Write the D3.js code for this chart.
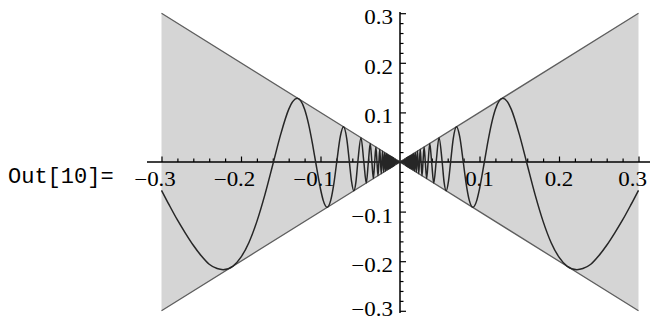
<!DOCTYPE html>
<html>
<head>
<meta charset="utf-8">
<script src="https://cdn.jsdelivr.net/npm/d3@7/dist/d3.min.js"></script>
<style>
  html, body { margin: 0; padding: 0; background: #fff; }
  svg { display: block; }
  .lbl { font-family: "Liberation Serif", Tinos, "Times New Roman", Times, "DejaVu Serif", serif; font-size: 20px; fill: #000; }
  .tag { font-family: "Liberation Mono", Cousine, "Courier New", Courier, "DejaVu Sans Mono", monospace; font-size: 22px; fill: #000; }
</style>
</head>
<body>
<svg id="chart" width="650" height="322"></svg>
<script>
// x Sin[1/x] between the envelope lines y = x and y = -x on [-0.3, 0.3]
const xDomain = [-0.3, 0.3];
const yDomain = [-0.3, 0.3];
const envelopeX = [-0.3, 0, 0.3];

const xMajor = [-0.3, -0.2, -0.1, 0.1, 0.2, 0.3];
const xLabels = ["0.3", "0.2", "0.1", "0.1", "0.2", "0.3"];
const xNegative = [true, true, true, false, false, false];
const yMajor = [0.3, 0.2, 0.1, -0.1, -0.2, -0.3];
const yLabels = ["0.3", "0.2", "0.1", "\u22120.1", "\u22120.2", "\u22120.3"];
const minorStep = 0.02;

// right half of the oscillating curve, [x, y]; the curve is even so the left half mirrors it
const curveRight = [
  [0.0010, -0.0010], [0.0020, 0.0020], [0.0030, -0.0030], [0.0040, 0.0040],
  [0.0050, -0.0050], [0.0060, 0.0060], [0.0070, -0.0070],
  [0.007860, 0.007860], [0.008058, -0.008058], [0.008268, 0.008268], [0.008488, -0.008488],
  [0.008721, 0.008721], [0.008966, -0.008966], [0.009226, 0.009226], [0.009502, -0.009502],
  [0.009794, 0.009794], [0.010105, -0.010105], [0.010436, 0.010436], [0.010790, -0.010790],
  [0.011169, 0.011169], [0.011575, -0.011575], [0.012012, 0.012012], [0.012483, -0.012483],
  [0.012992, 0.012992], [0.013545, -0.013545], [0.014147, 0.014147], [0.014805, -0.014805],
  [0.015527, 0.015527], [0.015915, 0], [0.016324, -0.016324], [0.016753, 0],
  [0.017206, 0.017206], [0.017684, 0], [0.018189, -0.018189], [0.018724, 0],
  [0.019292, 0.019292], [0.019894, 0], [0.020536, -0.020536], [0.021221, 0],
  [0.021952, 0.021952], [0.022736, 0], [0.023579, -0.023579], [0.024485, 0],
  [0.025465, 0.025465], [0.026526, 0], [0.027679, -0.027679], [0.028937, 0],
  [0.030315, 0.030315], [0.031831, 0], [0.033506, -0.033506], [0.035368, 0],
  [0.037448, 0.037448], [0.039789, 0], [0.042441, -0.042441], [0.045473, 0],
  [0.04909, 0.0490], [0.053052, 0], [0.0555, -0.04101], [0.05807, -0.0580],
  [0.061, -0.03857], [0.063662, 0], [0.067, 0.04724], [0.07109, 0.0709],
  [0.075, 0.05204], [0.079577, 0], [0.083, -0.04169], [0.087, -0.07641],
  [0.0917, -0.0913], [0.0965, -0.07789], [0.100, -0.05440], [0.106103, 0],
  [0.110, 0.03605], [0.115, 0.07652], [0.120, 0.10642], [0.125, 0.12367],
  [0.1294, 0.1284], [0.135, 0.12177], [0.140, 0.10609], [0.150, 0.05612],
  [0.159155, 0], [0.170, -0.06632], [0.180, -0.11972], [0.190, -0.16219],
  [0.200, -0.19178], [0.210, -0.20973], [0.2225, -0.2171], [0.230, -0.21487],
  [0.240, -0.20614], [0.250, -0.18920], [0.260, -0.16793], [0.270, -0.14327],
  [0.280, -0.11685], [0.290, -0.08762], [0.300, -0.05703]
];

const curve = curveRight.slice().reverse().map(([px, py]) => [-px, py])
  .concat([[0, 0]], curveRight);

const W = 650;
const svg = d3.select("#chart");
const x = d3.scaleLinear().domain(xDomain).range([161.5, 638.5]);
const y = d3.scaleLinear().domain(yDomain).range([310.8, 13.2]);

// shaded wedge between the two envelope lines
svg.append("path")
  .datum(envelopeX)
  .attr("d", d3.area().x(d => x(d)).y0(d => y(d)).y1(d => y(-d)))
  .attr("fill", "#d5d5d5");

// axes
const minorTicks = d3.range(-15, 16).filter(i => i % 5 !== 0).map(i => i * minorStep);

const gx = svg.append("g").attr("transform", `translate(0,${y(0)})`);
gx.call(d3.axisTop(x).tickValues(minorTicks).tickSize(3.5).tickFormat(""));
gx.call(g => g.append("g").call(d3.axisTop(x).tickValues(xMajor).tickSize(5.5).tickFormat("")));
gx.selectAll(".domain").remove();
gx.selectAll("line").attr("stroke", "#000").attr("stroke-width", 1.2);
gx.append("line").attr("x1", 147).attr("x2", W).attr("stroke", "#000").attr("stroke-width", 1.5);

const gy = svg.append("g").attr("transform", `translate(${x(0)},0)`);
gy.call(d3.axisRight(y).tickValues(minorTicks).tickSize(3.5).tickFormat(""));
gy.call(g => g.append("g").call(d3.axisRight(y).tickValues(yMajor).tickSize(6).tickFormat("")));
gy.selectAll(".domain").remove();
gy.selectAll("line").attr("stroke", "#000").attr("stroke-width", 1.2);
gy.append("line").attr("y1", 12).attr("y2", 313).attr("stroke", "#000").attr("stroke-width", 1.5);

// tick labels (slightly widened serif digits)
const stretch = 1.15;

xMajor.forEach((v, i) => {
  const g = svg.append("g");
  const t = g.append("text").attr("class", "lbl").attr("text-anchor", "middle").text(xLabels[i]);
  const w = t.node().getComputedTextLength();
  if (xNegative[i]) {
    g.append("text").attr("class", "lbl").attr("x", -w / 2).attr("text-anchor", "end").text("\u2212");
  }
  // keep the last label inside the frame
  let cx = x(v);
  const right = cx + (w / 2) * stretch;
  if (right > W - 3) cx -= right - (W - 3);
  g.attr("transform", `translate(${cx},186) scale(${stretch},1)`);
});

yMajor.forEach((v, i) => {
  const by = Math.min(y(v) + 11, 316);
  svg.append("g").attr("transform", `translate(393,${by}) scale(${stretch},1)`)
    .append("text").attr("class", "lbl").attr("text-anchor", "end").text(yLabels[i]);
});

// envelope lines
[1, -1].forEach(s => {
  svg.append("path")
    .datum(envelopeX)
    .attr("d", d3.line().x(d => x(d)).y(d => y(s * d)))
    .attr("fill", "none").attr("stroke", "#5e5e5e").attr("stroke-width", 1.3);
});

// oscillating curve
svg.append("path")
  .datum(curve)
  .attr("d", d3.line().x(d => x(d[0])).y(d => y(d[1])).curve(d3.curveMonotoneX))
  .attr("fill", "none").attr("stroke", "#262626").attr("stroke-width", 1.5)
  .attr("stroke-linejoin", "round");

// output cell tag
svg.append("text").attr("class", "tag").attr("x", 8).attr("y", 183).text("Out[10]=");
</script>
</body>
</html>
